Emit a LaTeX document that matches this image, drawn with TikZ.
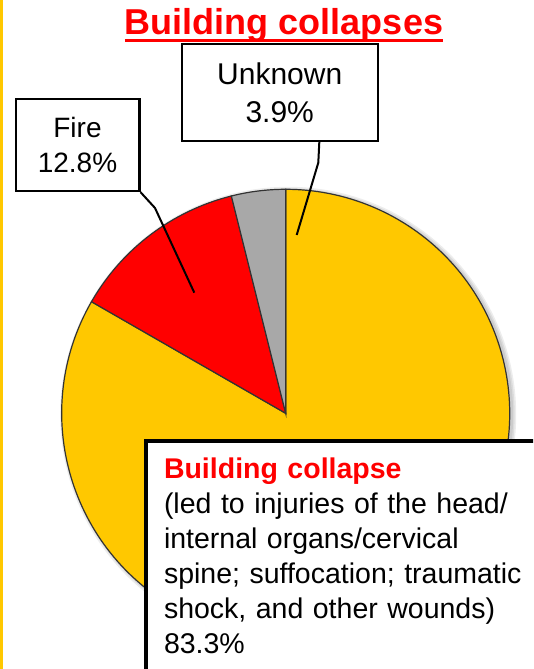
\documentclass[tikz,border=0pt]{standalone}
\usepackage{fontspec}
\setmainfont{Liberation Sans}
\definecolor{pieyellow}{RGB}{255,200,0}
\definecolor{piegray}{RGB}{168,168,168}
\tikzset{
	labelbox/.style={draw, line width=2.4, fill=white, align=center, inner sep=0},
	leader/.style={line width=2},
	slice/.style={draw=black!80, line width=1.2},
}

\begin{document}
\begin{tikzpicture}[x=1pt, y=1pt]
	\useasboundingbox (0,0) rectangle (533,669);
	\clip (0,0) rectangle (533,669);
	% Yellow bar on the left side
	\fill[pieyellow] (0,0) rectangle (2.7,669);

	% Title with its underline
	\node[text=red, font=\bfseries\fontsize{36}{40}\selectfont, inner sep=0, anchor=base] (title) at (284,634) {Building collapses};
	\draw[red, line width=2.2] ([yshift=-5.5]title.base west) -- ([yshift=-5.5]title.base east);

	% Pie chart with a soft shadow
	\coordinate (pc) at (285.7,255.7);
	\foreach \r in {228,226.5,225} {
		\fill[black, opacity=0.07] ([shift={(2.5,-1.5)}]pc) circle (\r);
	}
	\filldraw[slice, fill=pieyellow] (pc) -- ++(150.12:224) arc[start angle=150.12, end angle=450, radius=224] -- cycle;
	\filldraw[slice, fill=red] (pc) -- ++(104.04:224) arc[start angle=104.04, end angle=150.12, radius=224] -- cycle;
	\filldraw[slice, fill=piegray] (pc) -- ++(90:224) arc[start angle=90, end angle=104.04, radius=224] -- cycle;

	% Labels of the small slices
	\node[labelbox, minimum width=123.6, minimum height=91.7, font=\fontsize{28}{35}\selectfont] (fire) at (77.5,523.9) {Fire\\12.8\%};
	\node[labelbox, minimum width=196, minimum height=97, font=\fontsize{30}{38}\selectfont] (unknown) at (279.7,576.5) {Unknown\\3.9\%};

	% Leader lines into the slices
	\coordinate (firept) at (194.3,376.3);
	\coordinate (unknownpt) at (296.7,434);
	\draw[leader] (fire.south east) -- (155,461) -- (firept);
	\draw[leader] ([xshift=39.6]unknown.south) -- (318.3,506.3) -- (unknownpt);

	% Label of the large slice
	\node[draw, line width=4, fill=white, anchor=north west, inner xsep=18, inner ysep=17, text width=440, align=left, font=\fontsize{28.5}{35}\selectfont] (collapse) at (144,230) {\textcolor{red}{\bfseries Building collapse}\\(led to injuries of the head/\\internal organs/cervical\\spine; suffocation; traumatic\\shock, and other wounds)\\83.3\%};
\end{tikzpicture}
\end{document}
